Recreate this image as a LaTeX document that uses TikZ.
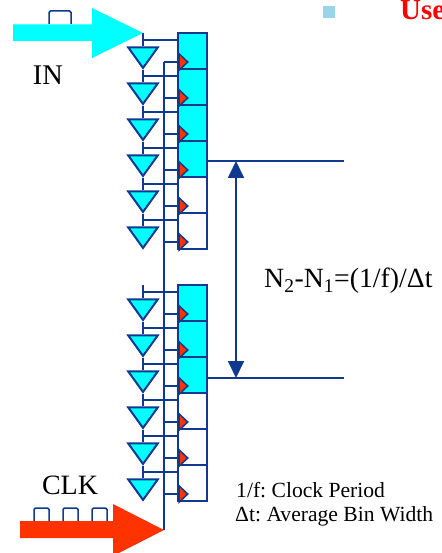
\documentclass[tikz,border=0pt]{standalone}
\usepackage{fontspec}
\setmainfont{Liberation Serif}
\usepackage{xcolor}
\usetikzlibrary{arrows.meta,calc,shapes.geometric}
\definecolor{Wire}{HTML}{0F3A8F}
\definecolor{Aqua}{HTML}{00FFFF}
\definecolor{Flame}{HTML}{FF3300}
\definecolor{Bullet}{HTML}{99D5EA}
\newcommand{\fsz}[1]{\fontsize{#1}{#1}\selectfont\frenchspacing}
\tikzset{
  wire/.style={draw=Wire, line width=1.7pt},
  cellon/.style={rectangle, draw=Wire, fill=Aqua, line width=2.2pt, minimum width=29pt, minimum height=36pt, inner sep=0pt},
  celloff/.style={rectangle, draw=Wire, fill=white, line width=1.7pt, minimum width=29pt, minimum height=36pt, inner sep=0pt},
  buf/.style={isosceles triangle, isosceles triangle apex angle=68, isosceles triangle stretches, shape border rotate=-90, draw=Wire, fill=Aqua, line width=2pt, minimum width=29.5pt, minimum height=20.5pt, inner sep=0pt},
  clkmark/.style={isosceles triangle, isosceles triangle stretches, shape border rotate=0, draw=Wire, fill=Flame, line width=1.5pt, minimum width=16pt, minimum height=8.5pt, inner sep=0pt},
  pulse/.style={draw=Wire, line width=1.5pt, rounded corners=1.5pt},
  span/.style={{Triangle[length=17pt,width=16pt]}-{Triangle[length=17pt,width=16pt]}, draw=Wire, line width=1.8pt},
  lbl/.style={inner sep=0pt, text=black}
}
\begin{document}
\begin{tikzpicture}[x=1pt,y=-1pt]
\clip (0,0) rectangle (441,553);
\fill[white] (0,0) rectangle (441,553);
% input and clock pulses
\draw[pulse] (49,24) -- (49,11) -- (71,11) -- (71,24);
\foreach \x in {34,63,92} \draw[pulse] (\x,521) -- (\x,508) -- (\x+15,508) -- (\x+15,521);
% clock rail
\coordinate (clktop) at (164,62);
\coordinate (clkin) at (164,530);
\draw[wire] (clktop) -- (clkin);
% two runs of taps
\foreach \g/\y/\nf in {a/33/4,b/285/3} {
  \coordinate (\g top) at (143,\y);
  \foreach \i in {5,4,...,0} {
    \ifnum\i<\nf\relax\def\cs{cellon}\else\def\cs{celloff}\fi
    \node[\cs] (\g cell\i) at (192.5,\y+18+36*\i) {};
    \coordinate (\g tap\i) at (143,\y+7+36*\i);
    \coordinate (\g clk\i) at (164,\y+29+36*\i);
    \node[buf] (\g buf\i) at (143,\y+22*1+36*\i) {};
    \draw[wire] (\g tap\i) -- (\g buf\i.lower side);
    \draw[wire] (\g tap\i) -- (\g tap\i -| \g cell\i.west);
    \draw[wire] (\g clk\i) -- (\g clk\i -| \g cell\i.west);
    \node[clkmark] (\g mark\i) at (182.7,\y+29+36*\i) {};
  }
  \draw[wire] (\g top) -- (\g tap0);
  \foreach \i [evaluate=\i as \j using int(\i+1)] in {0,...,4} \draw[wire] (\g buf\i.apex) -- (\g tap\j);
}
% big arrows
\fill[Aqua] (13,24.5) -- (92,24.5) -- (92,8) -- (143,33) -- (92,58) -- (92,41) -- (13,41) -- cycle;
\fill[Flame] (20,521) -- (113,521) -- (113,504) -- (164,530) -- (113,556) -- (113,538) -- (20,538) -- cycle;
% period marks
\coordinate (hi) at (344,161);
\coordinate (lo) at (344,378);
\draw[wire] (hi -| acell3.east) -- (hi);
\draw[wire] (lo -| bcell2.east) -- (lo);
\coordinate (spanhi) at (236,161);
\coordinate (spanlo) at (236,378);
\draw[span] (spanhi) -- (spanlo);
% texts
\node[lbl, font=\fsz{28.5}] (inlbl) at (48,75) {IN};
\node[lbl, font=\fsz{28}] (clklbl) at (70,485) {CLK};
\node[lbl, font=\fsz{27.8}, anchor=west] (period) at (264,281) {N\textsubscript{2}-N\textsubscript{1}=(1/f)/Δt};
\node[lbl, font=\fsz{21.6}, anchor=west] (noteclk) at (236,490) {1/f: Clock Period};
\node[lbl, font=\fsz{21.6}, anchor=west] (notebin) at (235,516) {Δt: Average Bin Width};
\node[fill=Bullet, minimum size=12pt, inner sep=0pt] (bullet) at (329,12) {};
\node[lbl, font=\fsz{29}\bfseries, text=red, anchor=base west] (uselbl) at (400,20) {Use};
\end{tikzpicture}
\end{document}
